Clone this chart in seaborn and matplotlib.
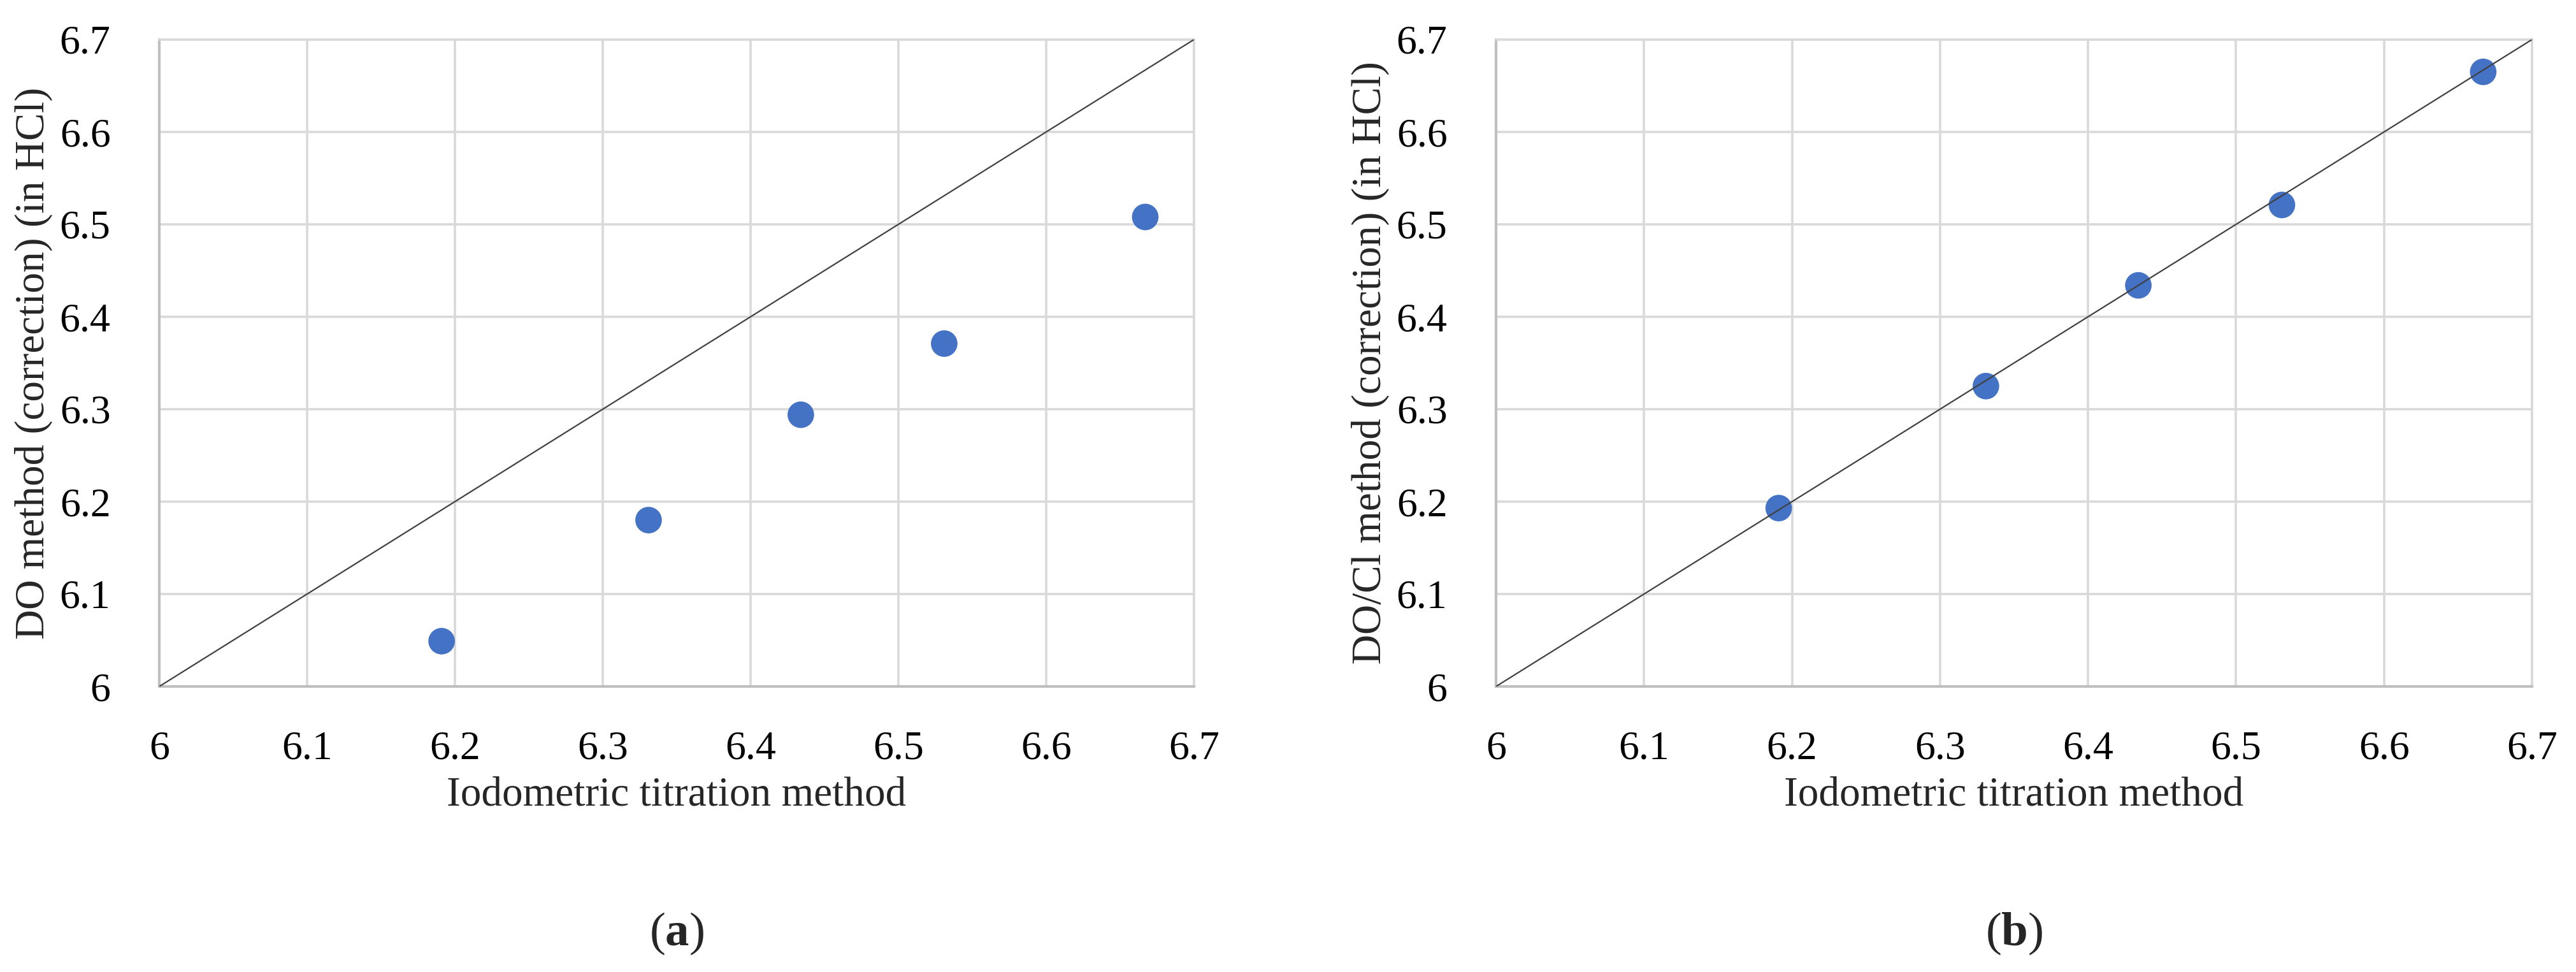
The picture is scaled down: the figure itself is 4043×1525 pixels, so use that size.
import matplotlib
matplotlib.use("Agg")
import matplotlib.pyplot as plt
import matplotlib.ticker as mticker
import seaborn as sns
import pandas as pd

# ---- data ----
iodometric = [6.191, 6.331, 6.434, 6.531, 6.667]
do_method = [6.049, 6.180, 6.294, 6.371, 6.508]
docl_method = [6.193, 6.325, 6.434, 6.521, 6.665]
diag = [6.0, 6.7]
ticks = [6.0, 6.1, 6.2, 6.3, 6.4, 6.5, 6.6, 6.7]
xlabel = "Iodometric titration method"
ylabels = ["DO method (correction) (in HCl)", "DO/Cl method (correction) (in HCl)"]
panel_letters = ["a", "b"]

sns.set_theme(style="white")
plt.rcParams["font.family"] = ["Liberation Serif", "DejaVu Serif"]
plt.rcParams["mathtext.fontset"] = "custom"
plt.rcParams["mathtext.rm"] = "Liberation Serif"
plt.rcParams["mathtext.bf"] = "Liberation Serif:bold"

W, H = 4043, 1525
fig = plt.figure(figsize=(W / 100, H / 100), dpi=100)

ax_l = fig.add_axes([250 / W, 1 - 1077 / H, (1874 - 250) / W, (1077 - 62) / H])
ax_r = fig.add_axes([2348 / W, 1 - 1077 / H, (3974 - 2348) / W, (1077 - 62) / H])

blue = "#4472C4"
grid_c = "#d9d9d9"
spine_c = "#bfbfbf"

for ax, yvals, ylab, letter in zip([ax_l, ax_r], [do_method, docl_method], ylabels, panel_letters):
    df = pd.DataFrame({"x": iodometric, "y": yvals})
    sns.scatterplot(data=df, x="x", y="y", ax=ax, s=900, color=blue,
                    edgecolor="none", linewidth=0, zorder=3)
    sns.lineplot(x=diag, y=diag, ax=ax, color="#404040", lw=1.6, zorder=4)
    ax.set_xlim(6.0, 6.7)
    ax.set_ylim(6.0, 6.7)
    ax.set_xticks(ticks)
    ax.set_yticks(ticks)
    fmt = mticker.FuncFormatter(lambda v, p: f"{v:g}")
    ax.xaxis.set_major_formatter(fmt)
    ax.yaxis.set_major_formatter(fmt)
    ax.grid(True, color=grid_c, lw=2.6, zorder=0)
    ax.set_axisbelow(True)
    ax.tick_params(axis="both", length=0, labelsize=46, colors="black")
    ax.tick_params(axis="x", pad=50)
    ax.tick_params(axis="y", pad=55)
    for s in ["top", "right"]:
        ax.spines[s].set_color(grid_c)
        ax.spines[s].set_linewidth(2.6)
    for s in ["left", "bottom"]:
        ax.spines[s].set_color(spine_c)
        ax.spines[s].set_linewidth(3.0)
    ax.set_xlabel(xlabel, fontsize=47, labelpad=10)
    ax.set_ylabel(ylab, fontsize=47, labelpad=8)
    pos = ax.get_position()
    fig.text((pos.x0 + pos.x1) / 2, 1 - 1465 / H, r"($\mathbf{" + letter + r"}$)",
             ha="center", va="center", fontsize=54)

fig.savefig("out.png", dpi=100, facecolor="white")
